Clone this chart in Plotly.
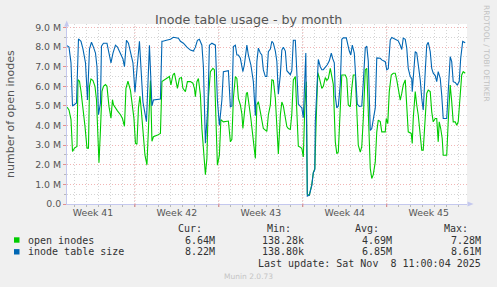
import pandas as pd
import plotly.graph_objects as go

# ---------------- data ----------------
T0 = pd.Timestamp("2025-10-06 08:00")      # left edge of the time axis
X_END_HOURS = 800.6                          # right edge of the time axis (hours after T0)

# inode table size (millions) : sample time in hours after T0, value
size_hours = [0, 4, 8, 11, 19, 23, 28, 32, 37, 41, 45, 49, 53, 57, 60, 63, 67, 69, 73, 80,
              84, 88, 92, 97, 101, 107, 112, 115, 119, 123, 128, 132, 136, 145, 152, 159, 165, 170, 173, 187,
              190, 192, 199, 207, 213, 223, 227, 233, 240, 247, 253, 257, 261, 265, 270, 273, 277, 282, 285, 290,
              297, 301, 305, 310, 313, 323, 327, 330, 333, 337, 340, 343, 347, 352, 355, 360, 363, 368, 373, 377,
              380, 383, 387, 390, 393, 397, 400, 403, 407, 410, 413, 417, 420, 423, 427, 430, 433, 437, 440, 443,
              447, 450, 453, 457, 460, 463, 470, 473, 478, 481, 485, 490, 493, 496, 497, 500, 503, 507, 510, 513,
              519, 521, 525, 529, 532, 535, 537, 540, 543, 547, 550, 553, 559, 561, 565, 568, 571, 575, 579, 581,
              585, 590, 593, 597, 600, 603, 607, 610, 613, 617, 620, 623, 627, 630, 637, 640, 643, 647, 650, 657,
              663, 667, 670, 673, 677, 680, 683, 687, 690, 691, 693, 697, 700, 703, 707, 710, 713, 717, 720, 723,
              727, 730, 733, 737, 740, 743, 747, 750, 753, 760, 763, 767, 770, 773, 777, 781, 785, 788, 792, 795, 797]
size_values = [8.08, 8.0, 7.2, 5.0, 5.15, 8.42, 8.3, 7.9, 7.2, 5.3, 7.9, 8.25, 8.0, 7.7, 7.0, 4.55, 5.15, 8.05, 8.2, 8.2,
               7.7, 7.2, 7.7, 8.1, 8.0, 7.7, 7.4, 7.0, 8.35, 8.2, 7.7, 7.2, 5.7, 8.3, 5.2, 4.2, 8.1, 5.0, 5.3, 5.35,
               8.3, 8.3, 8.35, 8.4, 8.5, 8.45, 8.3, 8.2, 8.0, 7.85, 7.8, 8.0, 8.35, 8.4, 8.1, 7.0, 3.1, 5.0, 8.1, 8.2,
               8.1, 5.3, 4.0, 5.3, 6.75, 6.8, 4.96, 5.0, 8.03, 8.1, 7.6, 7.6, 7.43, 6.75, 7.1, 8.1, 7.6, 7.1, 6.24, 4.5,
               7.26, 7.95, 7.7, 7.6, 6.84, 6.5, 6.5, 7.77, 7.9, 8.3, 8.2, 7.8, 7.28, 5.6, 6.6, 7.85, 8.0, 7.8, 6.8, 6.7,
               6.6, 6.8, 8.35, 8.35, 7.0, 5.1, 4.9, 4.4, 7.7, 0.4, 0.45, 0.95, 1.6, 1.75, 4.2, 5.9, 7.37, 7.0, 6.85, 6.85,
               7.0, 7.1, 7.3, 7.7, 7.4, 7.2, 5.5, 4.9, 5.0, 6.1, 8.4, 8.47, 8.47, 8.2, 7.8, 7.6, 8.1, 7.7, 5.5, 5.1,
               4.98, 5.0, 6.2, 7.96, 8.05, 7.3, 3.75, 3.85, 4.3, 4.9, 7.45, 7.45, 7.43, 7.35, 7.26, 6.84, 6.9, 8.37, 8.49, 8.4,
               8.32, 8.1, 7.88, 8.46, 8.4, 7.95, 6.92, 6.5, 6.4, 5.73, 6.4, 7.77, 7.7, 7.1, 6.33, 5.39, 4.79, 6.75, 8.1, 8.25,
               7.77, 6.92, 6.67, 6.55, 6.24, 6.75, 6.41, 5.56, 4.36, 4.36, 5.5, 7.52, 7.26, 6.24, 6.2, 6.07, 6.24, 7.43, 8.29, 8.25, 8.22]

# open inodes (millions)
open_hours = [0, 4, 8, 11, 15, 20, 22, 25, 28, 32, 36, 40, 43, 45, 48, 52, 56, 59, 61, 64,
              67, 70, 73, 77, 80, 84, 88, 91, 93, 97, 101, 107, 111, 115, 118, 122, 127, 131, 134, 137,
              140, 143, 146, 149, 152, 156, 160, 163, 167, 170, 173, 180, 187, 190, 193, 200, 205, 208, 212, 215,
              219, 221, 225, 229, 232, 237, 241, 247, 252, 255, 257, 260, 263, 267, 270, 273, 277, 280, 283, 287,
              292, 295, 299, 301, 305, 308, 313, 323, 327, 330, 333, 337, 340, 343, 347, 350, 352, 355, 359, 361,
              365, 368, 371, 375, 377, 380, 383, 387, 390, 393, 397, 400, 403, 407, 410, 413, 417, 420, 423, 427,
              430, 433, 437, 440, 443, 447, 450, 453, 457, 460, 463, 467, 470, 473, 476, 479, 481, 485, 490, 493,
              496, 499, 502, 505, 510, 513, 517, 520, 523, 527, 530, 533, 537, 540, 543, 547, 550, 557, 560, 563,
              567, 570, 573, 577, 580, 583, 587, 590, 593, 597, 600, 603, 607, 610, 613, 617, 620, 623, 627, 630,
              637, 639, 642, 645, 649, 653, 657, 660, 663, 667, 670, 673, 677, 680, 683, 689, 691, 693, 697, 700,
              703, 707, 710, 713, 717, 720, 723, 727, 730, 733, 737, 740, 743, 745, 748, 751, 753, 760, 763, 767,
              770, 773, 777, 780, 783, 787, 790, 793, 797]
open_values = [4.94, 4.8, 4.3, 2.68, 2.85, 2.93, 6.34, 6.26, 5.75, 4.98, 3.96, 2.85, 2.85, 6.0, 6.38, 6.3, 6.0, 5.32, 3.79, 2.1,
               3.79, 5.75, 6.0, 6.09, 6.0, 4.98, 4.38, 5.32, 5.06, 4.89, 4.75, 4.55, 4.36, 3.96, 5.9, 6.26, 5.8, 4.98, 4.36, 3.1,
               3.05, 4.9, 5.5, 4.7, 3.79, 2.5, 2.0, 4.3, 6.3, 3.2, 3.43, 3.5, 3.6, 6.24, 6.3, 6.41, 6.5, 6.07, 6.58, 6.67,
               6.16, 5.9, 6.41, 6.45, 5.9, 5.73, 6.24, 6.24, 6.16, 5.9, 5.47, 6.24, 6.4, 5.56, 3.85, 2.57, 1.5, 2.32, 5.39, 6.75,
               6.92, 6.85, 4.2, 1.98, 2.49, 4.3, 4.19, 4.23, 3.17, 3.3, 5.39, 6.5, 6.4, 5.39, 5.05, 4.6, 3.85, 4.7, 5.64, 5.7,
               5.05, 4.36, 3.68, 2.83, 2.32, 5.05, 5.22, 4.7, 4.19, 3.85, 3.77, 3.7, 4.54, 5.05, 6.33, 6.3, 5.39, 3.68, 2.55, 4.54,
               5.2, 5.0, 4.36, 3.95, 3.85, 3.8, 4.6, 6.33, 6.5, 5.05, 2.95, 2.9, 2.83, 2.4, 5.0, 6.24, 0.5, 0.45, 1.0, 1.6,
               1.8, 4.47, 6.7, 6.43, 5.9, 6.0, 6.45, 6.3, 6.4, 6.92, 6.58, 6.1, 3.17, 2.57, 2.65, 4.88, 6.58, 6.58, 6.4, 5.05,
               4.96, 5.9, 6.58, 6.58, 5.05, 3.0, 2.65, 2.93, 4.36, 6.84, 6.92, 5.05, 1.81, 1.3, 1.5, 2.15, 3.68, 4.28, 4.2, 3.68,
               3.68, 4.36, 4.1, 5.73, 6.58, 6.67, 6.67, 6.33, 5.9, 5.3, 5.64, 6.07, 6.33, 5.05, 3.68, 3.6, 3.09, 4.36, 5.73, 5.05,
               4.54, 3.51, 2.75, 2.75, 4.54, 5.64, 5.81, 5.73, 4.7, 4.19, 4.36, 4.36, 3.17, 4.19, 3.85, 3.34, 2.49, 2.49, 4.19, 6.07,
               5.22, 4.19, 4.19, 4.02, 4.19, 5.39, 6.58, 6.75, 6.67]

series_names = ["open inodes", "inode table size"]
series_colors = ["#00CC00", "#0066B3"]
stat_cur = ["6.64M", "8.22M"]
stat_min = ["138.28k", "138.80k"]
stat_avg = ["4.69M", "6.85M"]
stat_max = ["7.28M", "8.61M"]

week_bounds = ["2025-10-12", "2025-10-19", "2025-10-26", "2025-11-02"]
week_label_pos = ["2025-10-08 12:00", "2025-10-15 12:00", "2025-10-22 12:00",
                  "2025-10-29 12:00", "2025-11-05 12:00"]
week_labels = ["Week 41", "Week 42", "Week 43", "Week 44", "Week 45"]
y_tickvals = [0, 1, 2, 3, 4, 5, 6, 7, 8, 9]
y_ticktext = ["0.0", "1.0 M", "2.0 M", "3.0 M", "4.0 M", "5.0 M", "6.0 M", "7.0 M", "8.0 M", "9.0 M"]
Y_MAX = 9.18

# ---------------- figure ----------------
W, H = 497, 287
ML, MR, MT, MB = 67, 30, 24, 83
PW, PH = W - ML - MR, H - MT - MB


def px(x):
    return (x - ML) / PW


def py(y):
    return (H - MB - y) / PH


def to_time(hours):
    return [T0 + pd.Timedelta(hours=h) for h in hours]


fig = go.Figure()
fig.add_trace(go.Scatter(x=to_time(open_hours), y=open_values, mode="lines",
                         line=dict(color=series_colors[0], width=1.1), hoverinfo="skip"))
fig.add_trace(go.Scatter(x=to_time(size_hours), y=size_values, mode="lines",
                         line=dict(color=series_colors[1], width=1.1), hoverinfo="skip"))

GRID_RED = "rgba(230,120,120,0.55)"
GRID_GREY = "rgba(160,160,160,0.45)"
DOTS = "1px,2px"
AXIS_COL = "#C4C8EE"
TXT = "#555555"

fig.update_layout(
    width=W, height=H, margin=dict(l=ML, r=MR, t=MT, b=MB, pad=0),
    paper_bgcolor="#F0F0F0", plot_bgcolor="#FFFFFF",
    showlegend=False,
    font=dict(family="DejaVu Sans", color=TXT),
    xaxis=dict(
        type="date", range=[T0, T0 + pd.Timedelta(hours=X_END_HOURS)],
        tickmode="array", tickvals=week_label_pos, ticktext=week_labels,
        ticks="", showgrid=False, zeroline=False,
        tickfont=dict(size=9.4, color=TXT, family="DejaVu Sans"),
        showline=True, linecolor=AXIS_COL, linewidth=1,
        minor=dict(dtick=86400000, tick0="2025-10-05", showgrid=True,
                   gridcolor=GRID_GREY, griddash=DOTS, gridwidth=1,
                   ticks="outside", ticklen=2, tickcolor="#B8B8B8"),
        fixedrange=True,
    ),
    yaxis=dict(
        range=[0, Y_MAX], tickmode="array", tickvals=y_tickvals, ticktext=y_ticktext,
        showgrid=True, gridcolor=GRID_RED, griddash=DOTS, gridwidth=1,
        zeroline=False, ticks="outside", ticklen=3, tickcolor="rgba(225,120,120,0.8)",
        tickfont=dict(size=9.4, color=TXT, family="DejaVu Sans"),
        showline=True, linecolor=AXIS_COL, linewidth=1,
        minor=dict(tickvals=[0.5, 1.5, 2.5, 3.5, 4.5, 5.5, 6.5, 7.5, 8.5], showgrid=True,
                   gridcolor=GRID_GREY, griddash=DOTS, gridwidth=1,
                   ticks="outside", ticklen=2, tickcolor="#B8B8B8"),
        fixedrange=True,
    ),
)

shapes = []
for wb in week_bounds:
    shapes.append(dict(type="line", xref="x", yref="paper", x0=wb, x1=wb, y0=0, y1=1,
                       line=dict(color=GRID_RED, width=1, dash=DOTS), layer="below"))
    shapes.append(dict(type="line", xref="x", yref="paper", x0=wb, x1=wb, y0=0, y1=py(207),
                       line=dict(color="rgba(225,120,120,0.8)", width=1)))
# axis arrows
shapes.append(dict(type="path", xref="paper", yref="paper",
                   path=f"M {px(64.2)} {py(26.5)} L {px(69.2)} {py(26.5)} L {px(66.7)} {py(20.5)} Z",
                   fillcolor=AXIS_COL, line=dict(width=0)))
shapes.append(dict(type="path", xref="paper", yref="paper",
                   path=f"M {px(467.5)} {py(201.5)} L {px(467.5)} {py(206.5)} L {px(473.5)} {py(204)} Z",
                   fillcolor=AXIS_COL, line=dict(width=0)))
# legend squares
for i, col in enumerate(series_colors):
    yc = 240 + i * 11.8
    shapes.append(dict(type="rect", xref="paper", yref="paper",
                       x0=px(14), x1=px(19.5), y0=py(yc - 2.7), y1=py(yc + 2.7),
                       fillcolor=col, line=dict(width=0)))
fig.update_layout(shapes=shapes)

MONO = "DejaVu Sans Mono"
LEG = "#333333"
ann = []


def text(s, x, y, anchor="left", size=10, color=LEG, family=MONO, angle=0):
    ann.append(dict(text=s, x=px(x), y=py(y), xref="paper", yref="paper",
                    xanchor=anchor, yanchor="middle", showarrow=False, textangle=angle,
                    font=dict(size=size, color=color, family=family)))


text("Inode table usage - by month", 248.5, 19.5, anchor="center", size=12.7,
     color="#555555", family="DejaVu Sans")
text("number of open inodes", 10, 114, anchor="center", size=11, color="#555555",
     family="DejaVu Sans", angle=-90)
text("RRDTOOL / TOBI OETIKER", 487, 53, anchor="center", size=7.5, color="#C2C2C2",
     family="DejaVu Sans", angle=90)

for lbl, xr in zip(["Cur:", "Min:", "Avg:", "Max:"], [204, 293.3, 381, 470]):
    text(lbl, xr, 228, anchor="right")
for i in range(2):
    yc = 240 + i * 11.8
    text(series_names[i], 26, yc)
    for val, xr in zip([stat_cur[i], stat_min[i], stat_avg[i], stat_max[i]], [217.3, 306, 394, 483]):
        text(val, xr, yc, anchor="right")
text("Last update: Sat Nov  8 11:00:04 2025", 483, 263.3, anchor="right")
text("Munin 2.0.73", 248, 276, anchor="center", size=7.5, color="#C4C4C4", family="DejaVu Sans")
fig.update_layout(annotations=ann)

fig.write_html("out.html")
